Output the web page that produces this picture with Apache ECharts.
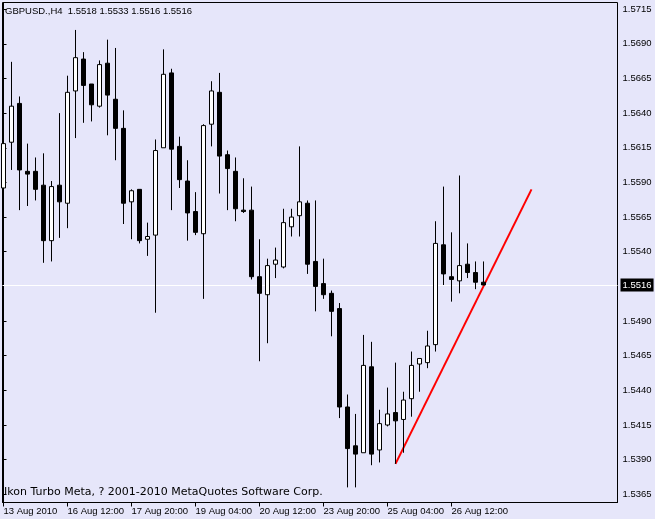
<!DOCTYPE html>
<html>
<head>
<meta charset="utf-8">
<script src="https://cdn.jsdelivr.net/npm/echarts@6/dist/echarts.min.js"></script>
<style>
html,body{margin:0;padding:0;background:#E6E6FA;}
#chart{width:655px;height:519px;}
</style>
</head>
<body>
<div id="chart"></div>
<script>
const symbolName = 'GBPUSD.,H4';
const footerText = 'Ikon Turbo Meta, ? 2001-2010 MetaQuotes Software Corp.';

const opens = [1.5586,1.5619,1.5647,1.5598,1.5598,1.5588,1.5548,1.5588,1.5575,1.5656,
1.5679,1.5661,1.5645,1.5676,1.5650,1.5629,1.5576,1.5585,1.5549,1.5552,
1.5615,1.5669,1.5616,1.5591,1.5569,1.5553,1.5632,1.5655,1.5610,1.5598,
1.5570,1.5570,1.5522,1.5509,1.5531,1.5529,1.5558,1.5566,1.5575,1.5533,
1.5517,1.5510,1.5499,1.5428,1.5400,1.5395,1.5457,1.5397,1.5415,1.5424,
1.5419,1.5434,1.5459,1.5460,1.5473,1.5545,1.5522,1.5519,1.5531,1.5525,
1.5518];
const highs = [1.5637,1.5677,1.5652,1.5618,1.5608,1.5611,1.5591,1.5640,1.5667,1.5700,
1.5684,1.5661,1.5678,1.5693,1.5687,1.5642,1.5585,1.5585,1.5561,1.5621,
1.5686,1.5672,1.5623,1.5606,1.5583,1.5632,1.5663,1.5669,1.5613,1.5608,
1.5593,1.5587,1.5549,1.5535,1.5543,1.5571,1.5571,1.5616,1.5577,1.5577,
1.5535,1.5512,1.5503,1.5437,1.5423,1.5480,1.5475,1.5426,1.5442,1.5460,
1.5439,1.5468,1.5463,1.5483,1.5562,1.5587,1.5554,1.5595,1.5546,1.5533,
1.5533];
const lows = [1.5584,1.5599,1.5570,1.5573,1.5577,1.5532,1.5533,1.5550,1.5557,1.5622,
1.5633,1.5634,1.5644,1.5624,1.5606,1.5560,1.5549,1.5546,1.5537,1.5496,
1.5615,1.5570,1.5586,1.5548,1.5552,1.5506,1.5616,1.5582,1.5570,1.5562,
1.5568,1.5520,1.5461,1.5474,1.5521,1.5528,1.5551,1.5551,1.5524,1.5497,
1.5506,1.5479,1.5420,1.5370,1.5370,1.5395,1.5386,1.5388,1.5414,1.5387,
1.5395,1.5421,1.5439,1.5456,1.5468,1.5516,1.5504,1.5510,1.5521,1.5513,
1.5516];
const closes = [1.5618,1.5645,1.5599,1.5596,1.5585,1.5548,1.5587,1.5576,1.5655,1.5680,
1.5660,1.5646,1.5675,1.5653,1.5629,1.5575,1.5584,1.5548,1.5551,1.5613,
1.5668,1.5614,1.5592,1.5568,1.5554,1.5631,1.5656,1.5609,1.5600,1.5571,
1.5569,1.5522,1.5510,1.5530,1.5534,1.5561,1.5565,1.5576,1.5531,1.5515,
1.5509,1.5497,1.5428,1.5398,1.5394,1.5458,1.5394,1.5416,1.5423,1.5418,
1.5433,1.5458,1.5463,1.5472,1.5546,1.5524,1.5520,1.5530,1.5525,1.5518,
1.5516];

const xTickIndex = [0, 8, 16, 24, 32, 40, 48, 56];
const xTickLabels = ['13 Aug 2010','16 Aug 12:00','17 Aug 20:00','19 Aug 04:00','20 Aug 12:00','23 Aug 20:00','25 Aug 04:00','26 Aug 12:00'];
const yTickValues = [1.5365,1.5390,1.5415,1.5440,1.5465,1.5490,1.5540,1.5565,1.5590,1.5615,1.5640,1.5665,1.5690,1.5715];

const trendX = [49, 66];
const trendY = [1.5387, 1.5585];

const n = closes.length;
const lastClose = closes[n - 1];

const candleData = [];
for (let i = 0; i < n; i++) candleData.push([i, opens[i], closes[i], lows[i], highs[i]]);
const trendData = trendX.map((x, i) => [x, trendY[i]]);

const titleText = symbolName + '  ' + opens[n-1].toFixed(4) + ' ' + highs[n-1].toFixed(4) + ' ' +
  lows[n-1].toFixed(4) + ' ' + closes[n-1].toFixed(4);

const axisFont = 'Liberation Sans';
const chart = echarts.init(document.getElementById('chart'), null, {renderer: 'canvas'});
chart.setOption({
  backgroundColor: '#E6E6FA',
  animation: false,
  grid: {left: 2.5, right: 37.5, top: 2.5, bottom: 16.5, show: true, borderColor: '#000', borderWidth: 1, backgroundColor: 'transparent'},
  xAxis: {
    type: 'value', min: -0.125, max: 76.75,
    axisLine: {show: true, lineStyle: {color: '#000', width: 1}},
    axisTick: {show: true, customValues: xTickIndex, length: 4, lineStyle: {color: '#000'}},
    axisLabel: {show: true, customValues: xTickIndex, align: 'left', margin: 4,
      color: '#000', fontFamily: axisFont, fontSize: 9.5,
      formatter: v => xTickLabels[xTickIndex.indexOf(Math.round(v))] || ''},
    splitLine: {show: false}
  },
  yAxis: {
    type: 'value', position: 'right', min: 1.53591, max: 1.57198, scale: true,
    axisLine: {show: true, lineStyle: {color: '#000', width: 1}},
    axisTick: {show: true, customValues: yTickValues, length: 3, lineStyle: {color: '#000'}},
    axisLabel: {show: true, customValues: yTickValues, margin: 5, color: '#000',
      fontFamily: axisFont, fontSize: 9.5, formatter: v => v.toFixed(4)},
    splitLine: {show: false}
  },
  series: [
    {
      type: 'line', data: trendData, symbol: 'none', z: 2,
      lineStyle: {color: '#FF0000', width: 2},
      markLine: {
        z: 1, silent: true, precision: 4, symbol: ['none', 'none'],
        lineStyle: {color: '#FFFFFF', width: 1, type: 'solid'},
        label: {show: true, position: 'end', distance: 3, formatter: () => lastClose.toFixed(4),
          color: '#FFFFFF', backgroundColor: '#000000', padding: [2, 2, 1, 2],
          fontFamily: axisFont, fontSize: 9.5},
        data: [{yAxis: lastClose}]
      }
    },
    {
      type: 'candlestick', data: candleData, z: 3, barWidth: 4,
      itemStyle: {color: '#FFFFFF', color0: '#000000', borderColor: '#000000', borderColor0: '#000000', borderColorDoji: '#000000', borderWidth: 1}
    }
  ],
  graphic: [
    {type: 'text', left: 5, top: 6, style: {text: titleText, fill: '#000', font: '9.5px "Liberation Sans"'}},
    {type: 'text', left: 4, top: 487, style: {text: footerText, fill: '#000', font: '11px "DejaVu Sans"'}}
  ]
});
</script>
</body>
</html>
